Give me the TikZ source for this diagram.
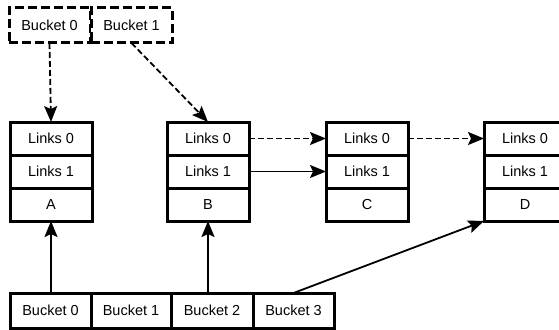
\documentclass[tikz,border=0pt]{standalone}
\usepackage{fontspec}
\setmainfont{Liberation Sans}
\usetikzlibrary{arrows.meta}
\tikzset{
  cell/.style={draw=black, line width=3pt, fill=white, minimum width=82pt, minimum height=33pt,
    inner sep=0pt, outer sep=0pt, font=\fontsize{14.5}{17}\selectfont, anchor=north west},
  bcell/.style={cell, minimum width=81pt, minimum height=35pt},
  dbox/.style={bcell, dash pattern=on 9pt off 4pt},
  arr/.style={line width=1.8pt, -{Stealth[length=16pt, width=13pt, inset=3pt]}},
  darr/.style={arr, dash pattern=on 6pt off 3pt}
}
\begin{document}
\begin{tikzpicture}[x=1pt, y=-1pt]
\useasboundingbox (0,0) rectangle (559,329);
\clip (0,0) rectangle (559,329);
% top dashed buckets
\node[dbox] (t0) at (9,8) {Bucket 0};
\node[dbox] (t1) at (91,8) {Bucket 1};
% records
\foreach \n/\x/\l in {A/10/A, B/167/B, C/326/C, D/484/D} {
  \node[cell] (\n0) at (\x,122) {Links 0};
  \node[cell] (\n1) at (\x,155) {Links 1};
  \node[cell] (\n2) at (\x,188) {\l};
}
% bottom buckets
\node[bcell, minimum width=81pt] (b0) at (10,293) {Bucket 0};
\node[bcell, minimum width=80pt] (b1) at (91,293) {Bucket 1};
\node[bcell, minimum width=82pt] (b2) at (171,293) {Bucket 2};
\node[bcell, minimum width=81pt] (b3) at (253,293) {Bucket 3};
% connectors
\draw[darr] (t0.south) -- (A0.north);
\draw[darr] (t1.south) -- (B0.north);
\draw[darr] (B0.east) -- (C0.west);
\draw[arr] (B1.east) -- (C1.west);
\draw[darr] (C0.east) -- (D0.west);
\draw[arr] (b0.north -| A2.south) -- (A2.south);
\draw[arr] (b2.north -| B2.south) -- (B2.south);
\draw[arr] (b3.north) -- (D2.south west);
\end{tikzpicture}
\end{document}
